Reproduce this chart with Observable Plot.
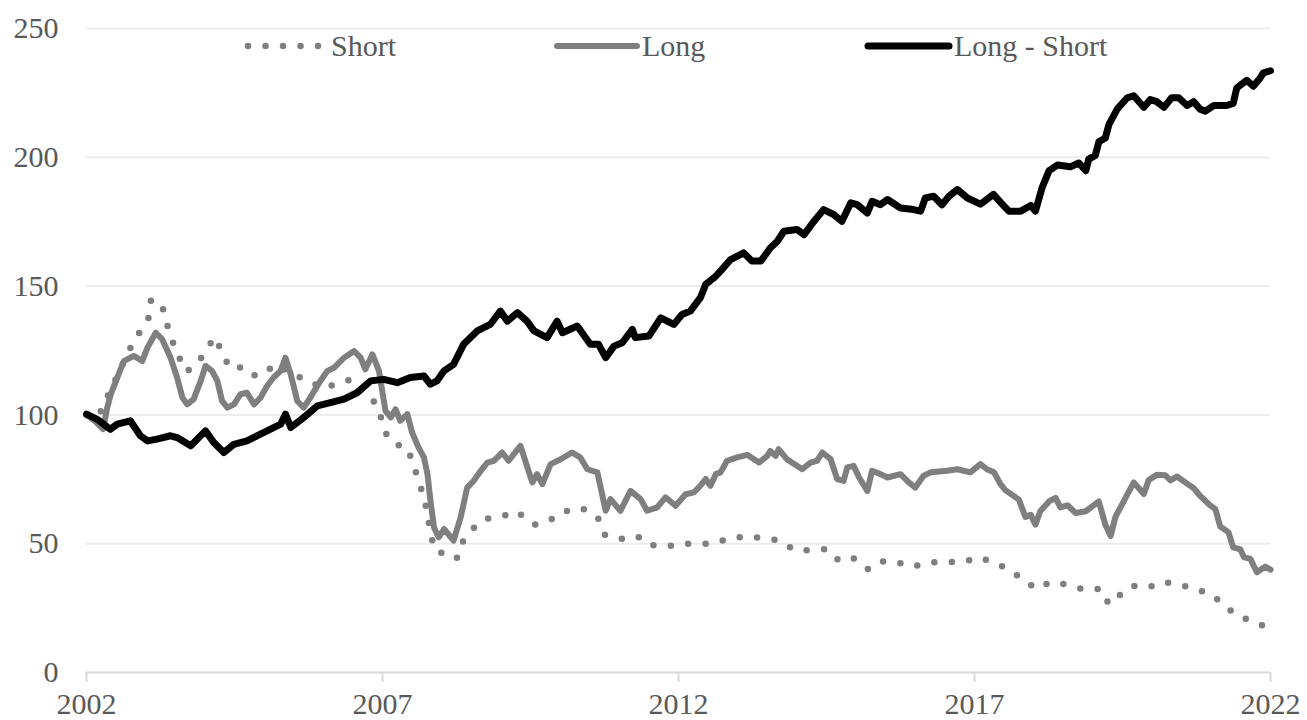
<!DOCTYPE html>
<html>
<head>
<meta charset="utf-8">
<script src="https://cdn.jsdelivr.net/npm/d3@7"></script>
<script src="https://cdn.jsdelivr.net/npm/@observablehq/plot@0.6"></script>
<style>
  body { margin: 0; background: #fff; }
  #chart { position: relative; width: 1307px; height: 720px; }
  #chart svg { display: block; }
  #legend { position: absolute; left: 0; top: 0; pointer-events: none; }
</style>
</head>
<body>
<div id="chart"></div>
<script>
// ---------------- data ----------------
const seriesNames = ["Short", "Long", "Long - Short"];
const xTicks = [2002, 2007, 2012, 2017, 2022];
const yTicks = [0, 50, 100, 150, 200, 250];

const shortYears = [2002.00,2002.15,2002.29,2002.38,2002.52,2002.77,2002.91,2003.05,2003.09,2003.28,2003.36,2003.45,2003.56,2003.69,2003.90,2004.04,2004.18,2004.29,2004.43,2004.66,2004.83,2005.05,2005.15,2005.40,2005.70,2006.01,2006.26,2006.49,2006.80,2006.91,2007.08,2007.22,2007.42,2007.52,2007.61,2007.70,2007.76,2007.81,2007.88,2008.08,2008.25,2008.36,2008.52,2008.72,2009.00,2009.28,2009.42,2009.57,2009.72,2009.95,2010.16,2010.40,2010.64,2010.75,2010.90,2011.10,2011.36,2011.54,2011.82,2012.09,2012.38,2012.62,2012.87,2013.16,2013.44,2013.71,2013.96,2014.25,2014.51,2014.72,2014.96,2015.20,2015.40,2015.69,2015.96,2016.23,2016.53,2016.82,2017.09,2017.33,2017.60,2017.82,2018.05,2018.29,2018.58,2018.85,2019.13,2019.27,2019.42,2019.67,2019.93,2020.19,2020.47,2020.75,2021.01,2021.22,2021.44,2021.69,2021.91,2022.00];
const shortValues = [100,99,102.8,108.7,115.1,127.4,132.6,137.7,144.8,142.2,135.1,128.7,122.5,116.7,120.7,126.1,130.2,123.9,118.0,118.6,115.4,116.4,119.6,117.0,113.5,110.3,112.5,113.8,106.7,103.5,91.5,88.6,87.3,80.9,74.4,68.0,61.5,54.4,47.5,45.7,44.1,50.9,55.7,59.6,60.5,62.5,59.6,57.4,58.9,60.0,63.4,63.4,60.0,53.5,53.1,51.4,52.7,49.5,49.0,50.0,49.9,50.2,52.2,52.8,52.2,51.2,47.5,47.5,47.9,43.2,44.3,40.2,43.2,42.8,41.1,42.8,42.8,43.0,44.7,42.6,39.9,35.9,32.5,35.2,34.0,32.2,32.5,26.5,29.5,33.7,32.9,35.2,34.1,32.2,30.3,26.0,22.1,19.9,17.8,17.5];

const longYears = [2002.00,2002.15,2002.28,2002.35,2002.41,2002.52,2002.63,2002.80,2002.94,2003.03,2003.17,2003.28,2003.42,2003.53,2003.62,2003.70,2003.81,2003.93,2004.01,2004.12,2004.21,2004.29,2004.38,2004.49,2004.60,2004.71,2004.83,2004.94,2005.05,2005.16,2005.28,2005.36,2005.45,2005.56,2005.67,2005.78,2005.95,2006.07,2006.18,2006.35,2006.52,2006.63,2006.71,2006.83,2006.94,2007.05,2007.14,2007.22,2007.30,2007.42,2007.50,2007.61,2007.70,2007.76,2007.81,2007.87,2007.95,2008.04,2008.20,2008.32,2008.43,2008.54,2008.66,2008.77,2008.88,2009.02,2009.13,2009.33,2009.53,2009.61,2009.70,2009.84,2010.01,2010.20,2010.34,2010.46,2010.63,2010.77,2010.85,2011.02,2011.19,2011.36,2011.47,2011.64,2011.78,2011.95,2012.12,2012.26,2012.37,2012.46,2012.54,2012.63,2012.71,2012.82,2012.99,2013.16,2013.36,2013.50,2013.55,2013.64,2013.69,2013.83,2014.09,2014.23,2014.34,2014.43,2014.57,2014.68,2014.79,2014.85,2014.96,2015.05,2015.19,2015.27,2015.41,2015.53,2015.75,2015.89,2016.00,2016.14,2016.26,2016.54,2016.71,2016.93,2017.10,2017.21,2017.33,2017.44,2017.52,2017.75,2017.86,2017.95,2018.03,2018.11,2018.26,2018.37,2018.45,2018.57,2018.71,2018.88,2019.10,2019.21,2019.30,2019.38,2019.52,2019.69,2019.86,2019.94,2020.08,2020.22,2020.31,2020.42,2020.56,2020.70,2020.81,2020.98,2021.07,2021.15,2021.29,2021.37,2021.49,2021.55,2021.66,2021.77,2021.91,2022.00];
const longValues = [100,97.5,94.5,102.8,108.0,114.5,120.9,122.9,120.9,126.1,131.9,129.3,122.2,114.5,106.7,104.1,106.1,113.2,119.0,117.1,113.2,105.4,102.8,104.1,108.0,108.6,104.1,106.7,111.2,114.5,117.1,122.2,115.8,105.4,102.8,106.7,113.2,117.1,118.3,122.2,124.8,122.2,117.7,123.5,117.1,101.6,99.0,102.2,97.7,100.3,93.2,87.3,83.5,77.0,66.7,56.3,52.5,55.7,51.2,60.2,71.8,74.4,78.3,81.5,82.2,85.4,82.2,88.0,73.8,77.0,73.1,80.9,82.8,85.4,83.5,78.9,77.7,62.8,67.3,62.8,70.5,67.3,62.8,64.1,68.0,64.7,69.2,69.9,72.5,75.1,72.5,77.0,77.7,82.2,83.5,84.5,81.5,84.1,86.0,84.1,86.7,82.8,78.9,81.5,82.2,85.4,82.8,75.1,74.4,79.6,80.2,75.7,70.5,78.3,77.0,75.7,77.0,73.8,71.8,76.4,77.7,78.3,78.9,77.7,80.9,78.9,77.7,73.1,70.8,67.1,60.4,61.2,57.4,62.6,66.4,67.8,64.1,64.9,61.9,62.6,66.4,57.4,53.0,60.4,66.4,73.8,69.3,74.6,76.8,76.6,74.6,76.1,73.8,71.6,68.6,64.9,63.4,56.7,54.5,48.6,47.8,44.8,44.1,38.9,41.1,39.9];

const lsYears = [2002.00,2002.18,2002.40,2002.52,2002.74,2002.91,2003.03,2003.19,2003.42,2003.53,2003.76,2004.01,2004.15,2004.32,2004.49,2004.71,2004.88,2005.05,2005.28,2005.36,2005.45,2005.67,2005.90,2006.12,2006.35,2006.57,2006.80,2007.02,2007.25,2007.47,2007.70,2007.81,2007.92,2008.04,2008.20,2008.37,2008.60,2008.82,2008.99,2009.11,2009.28,2009.44,2009.56,2009.78,2009.95,2010.04,2010.29,2010.51,2010.65,2010.77,2010.91,2011.05,2011.22,2011.27,2011.50,2011.70,2011.92,2012.06,2012.20,2012.37,2012.46,2012.60,2012.71,2012.88,2013.10,2013.24,2013.39,2013.55,2013.67,2013.78,2014.00,2014.12,2014.29,2014.45,2014.62,2014.76,2014.91,2015.02,2015.19,2015.27,2015.41,2015.53,2015.75,2015.97,2016.09,2016.17,2016.31,2016.45,2016.57,2016.71,2016.88,2017.10,2017.32,2017.44,2017.58,2017.78,2017.95,2018.03,2018.14,2018.26,2018.40,2018.62,2018.76,2018.88,2018.93,2019.04,2019.10,2019.21,2019.27,2019.41,2019.58,2019.69,2019.86,2019.97,2020.08,2020.20,2020.33,2020.45,2020.59,2020.70,2020.81,2020.90,2021.04,2021.26,2021.37,2021.43,2021.60,2021.71,2021.82,2021.88,2022.00];
const lsValues = [100.3,98.3,94.4,96.4,97.7,91.9,89.9,90.6,91.9,91.2,88.0,93.8,89.3,85.4,88.6,89.9,91.9,93.8,96.4,100.3,95.1,99.0,103.5,104.8,106.1,108.6,113.2,113.8,112.5,114.5,115.1,111.9,113.2,117.1,119.6,127.4,132.6,135.1,140.3,136.4,139.7,136.4,132.6,130.0,136.4,131.9,134.5,127.4,127.4,122.2,126.7,128.0,133.2,130.0,130.6,137.7,135.1,139.0,140.3,145.5,150.7,153.2,155.8,160.3,162.9,159.7,159.7,164.8,167.4,171.3,172.0,170.0,175.2,179.7,177.8,175.2,182.3,181.6,178.4,182.9,181.6,183.6,180.3,179.7,179.1,184.2,184.9,181.6,184.9,187.5,184.2,181.8,185.6,182.5,179.1,179.1,181.3,179.1,188.1,194.8,197.0,196.3,197.8,194.8,199.3,200.7,206.0,207.5,212.7,218.7,223.1,223.9,219.4,222.4,221.6,219.4,223.1,223.1,220.1,221.6,218.7,217.9,220.1,220.1,220.9,226.9,229.9,227.6,230.6,232.8,233.6];

// ---------------- build tables ----------------
const toRows = (years, values) => years.map((t, i) => ({t, v: values[i]}));
const shortRows = toRows(shortYears, shortValues);
const longRows = toRows(longYears, longValues);
const lsRows = toRows(lsYears, lsValues);

const GRAY = "#7f7f7f";
const TEXT = "#595959";
const FONT = "'Liberation Serif', 'Times New Roman', serif";

const styles = {
  "Short": {stroke: GRAY, strokeWidth: 6.5, strokeDasharray: "0 17.5", strokeLinecap: "round"},
  "Long": {stroke: GRAY, strokeWidth: 6, strokeLinecap: "round"},
  "Long - Short": {stroke: "#000", strokeWidth: 7, strokeLinecap: "round"}
};

const plot = Plot.plot({
  width: 1307,
  height: 720,
  marginLeft: 86,
  marginRight: 37,
  marginTop: 28,
  marginBottom: 48,
  style: {fontFamily: FONT, fontSize: "30px", background: "#fff", color: TEXT, overflow: "visible"},
  x: {type: "linear", domain: [2002, 2022]},
  y: {domain: [0, 250]},
  marks: [
    Plot.gridY(yTicks.filter(d => d > 0), {stroke: "#ececec", strokeOpacity: 1, strokeWidth: 2}),
    Plot.ruleY([0], {stroke: "#d9d9d9", strokeWidth: 2}),
    Plot.axisY({ticks: yTicks, tickSize: 0, tickPadding: 28, fill: TEXT, fontSize: 30, label: null}),
    Plot.axisX({ticks: xTicks, tickFormat: "d", tickSize: 10, tickPadding: 10, stroke: "#d9d9d9", strokeWidth: 2, fill: TEXT, fontSize: 30, label: null}),
    Plot.line(shortRows, {x: "t", y: "v", ...styles["Short"]}),
    Plot.line(longRows, {x: "t", y: "v", strokeLinejoin: "round", ...styles["Long"]}),
    Plot.line(lsRows, {x: "t", y: "v", strokeLinejoin: "round", ...styles["Long - Short"]})
  ]
});

const chart = document.getElementById("chart");
chart.appendChild(plot);

// ---------------- legend (overlay at the top of the chart) ----------------
const legendItems = [
  {name: seriesNames[0], x1: 248, x2: 320, tx: 331},
  {name: seriesNames[1], x1: 557, x2: 637, tx: 642},
  {name: seriesNames[2], x1: 868, x2: 949, tx: 954}
];
const lg = d3.select(chart).append("svg")
  .attr("id", "legend")
  .attr("width", 1307).attr("height", 80);
const ly = 46;
for (const it of legendItems) {
  const s = styles[it.name];
  lg.append("line")
    .attr("x1", it.x1).attr("x2", it.x2).attr("y1", ly).attr("y2", ly)
    .attr("stroke", s.stroke).attr("stroke-width", s.strokeWidth)
    .attr("stroke-linecap", "round")
    .attr("stroke-dasharray", s.strokeDasharray || null);
  lg.append("text")
    .attr("x", it.tx).attr("y", 56)
    .attr("fill", TEXT)
    .style("font-family", FONT).style("font-size", "30px")
    .text(it.name);
}
</script>
</body>
</html>
